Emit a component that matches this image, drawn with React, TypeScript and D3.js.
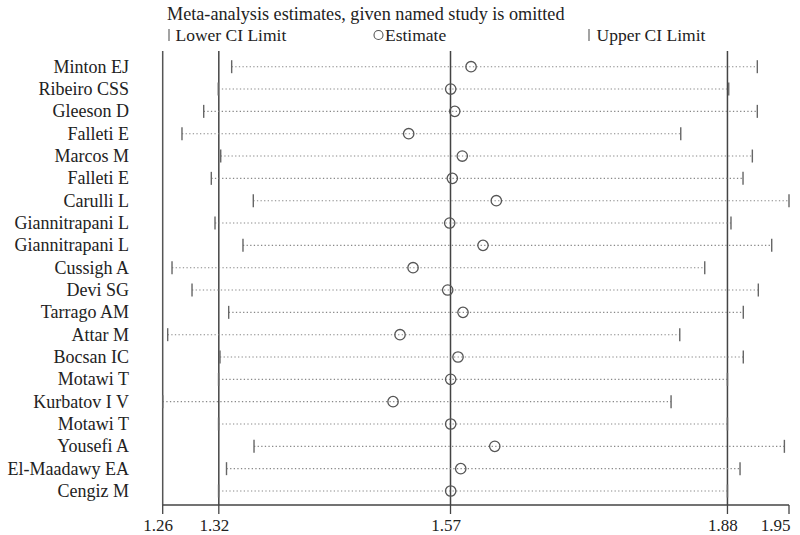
import React from "react";
import * as d3 from "d3";

const studies = [
  "Minton EJ", "Ribeiro CSS", "Gleeson D", "Falleti E", "Marcos M", "Falleti E",
  "Carulli L", "Giannitrapani L", "Giannitrapani L", "Cussigh A", "Devi SG",
  "Tarrago AM", "Attar M", "Bocsan IC", "Motawi T", "Kurbatov I V", "Motawi T",
  "Yousefi A", "El-Maadawy EA", "Cengiz M",
];
const estimates = [
  1.5987, 1.5762, 1.5807, 1.5298, 1.589, 1.578, 1.6266, 1.5751, 1.6119, 1.5346,
  1.5729, 1.5898, 1.5202, 1.5843, 1.5762, 1.5125, 1.5762, 1.6249, 1.5873, 1.5762,
];
const lowerCI = [
  1.3342, 1.3194, 1.3033, 1.2793, 1.3221, 1.3117, 1.3581, 1.3158, 1.3467, 1.2683,
  1.2904, 1.3309, 1.2635, 1.3213, 1.3197, 1.258, 1.3197, 1.3589, 1.3285, 1.3197,
];
const upperCI = [
  1.915, 1.8834, 1.915, 1.8304, 1.9095, 1.8992, 1.95, 1.8859, 1.9309, 1.8569,
  1.9161, 1.8995, 1.8293, 1.8995, 1.882, 1.8197, 1.882, 1.9449, 1.8959, 1.882,
];
const tickValues = [1.258, 1.32, 1.576, 1.882, 1.95];
const tickLabels = ["1.26", "1.32", "1.57", "1.88", "1.95"];
const refLines = [1.32, 1.576, 1.882];

const FONT = "'Liberation Serif', 'Times New Roman', serif";

export default function App() {
  const x = d3.scaleLinear().domain([1.258, 1.95]).range([162.7, 789]);
  const y = d3
    .scalePoint<number>()
    .domain(studies.map((_, i) => i))
    .range([66.7, 491]);
  const axisY = 505;
  const topY = 51;
  const barH = 6.5;

  return (
    <div style={{ position: "absolute", left: 0, top: 0 }}>
      <svg width={800} height={535} style={{ display: "block", background: "#fff" }}>
        {/* title & legend */}
        <text x={167} y={20} fontFamily={FONT} fontSize={18.2} fill="#222">
          Meta-analysis estimates, given named study is omitted
        </text>
        <g fontFamily={FONT} fontSize={17.5} fill="#222">
          <line x1={169} x2={169} y1={29} y2={41} stroke="#666" strokeWidth={1.2} />
          <text x={175.5} y={41}>Lower CI Limit</text>
          <circle cx={378.5} cy={35} r={4.5} fill="none" stroke="#555" strokeWidth={1.1} />
          <text x={385} y={41}>Estimate</text>
          <line x1={589} x2={589} y1={29} y2={41} stroke="#666" strokeWidth={1.2} />
          <text x={596.5} y={41}>Upper CI Limit</text>
        </g>

        {/* left frame line */}
        <line x1={x(1.258)} x2={x(1.258)} y1={topY} y2={axisY} stroke="#555" strokeWidth={1.5} />
        {/* reference lines */}
        {refLines.map((v, i) => (
          <line key={i} x1={x(v)} x2={x(v)} y1={topY} y2={axisY} stroke="#444" strokeWidth={1.5} />
        ))}

        {/* rows */}
        {studies.map((s, i) => {
          const yy = y(i) as number;
          return (
            <g key={i}>
              <text x={129} y={yy + 6} textAnchor="end" fontFamily={FONT} fontSize={18} fill="#222">
                {s}
              </text>
              <line
                x1={x(lowerCI[i])}
                x2={x(upperCI[i])}
                y1={yy}
                y2={yy}
                stroke="#888"
                strokeWidth={1.1}
                strokeDasharray="1.3,2.3"
              />
              <line x1={x(lowerCI[i])} x2={x(lowerCI[i])} y1={yy - barH} y2={yy + barH} stroke="#666" strokeWidth={1.4} />
              <line x1={x(upperCI[i])} x2={x(upperCI[i])} y1={yy - barH} y2={yy + barH} stroke="#666" strokeWidth={1.4} />
              <circle cx={x(estimates[i])} cy={yy} r={5.2} fill="none" stroke="#555" strokeWidth={1.3} />
            </g>
          );
        })}

        {/* x axis */}
        <line x1={x(1.258)} x2={x(1.95)} y1={axisY} y2={axisY} stroke="#444" strokeWidth={1.3} />
        {tickValues.map((t, i) => {
          const last = i === tickValues.length - 1;
          return (
            <g key={i}>
              <line x1={x(t)} x2={x(t)} y1={axisY} y2={axisY + 9} stroke="#444" strokeWidth={1.3} />
              <text
                x={last ? x(t) + 1.5 : x(t) - 4.5}
                y={531}
                textAnchor={last ? "end" : "middle"}
                fontFamily={FONT}
                fontSize={17}
                fill="#222"
              >
                {tickLabels[i]}
              </text>
            </g>
          );
        })}
      </svg>
    </div>
  );
}
